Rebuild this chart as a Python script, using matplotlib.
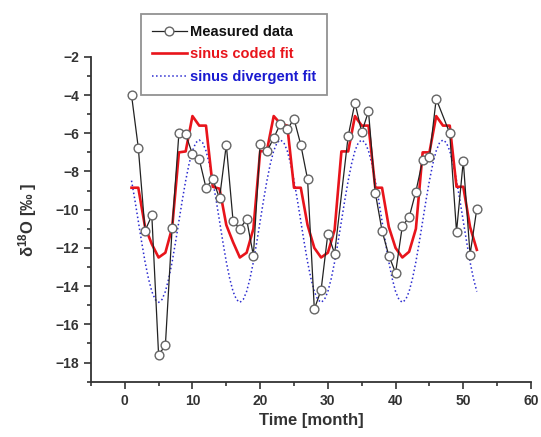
import matplotlib
matplotlib.use("Agg")
import matplotlib.pyplot as plt
from matplotlib.ticker import MultipleLocator

# measured monthly delta 18O (months 32 and 47 missing)
months_meas = [1, 2, 3, 4, 5, 6, 7, 8, 9, 10, 11, 12, 13, 14, 15, 16, 17, 18, 19, 20,
               21, 22, 23, 24, 25, 26, 27, 28, 29, 30, 31, 33, 34, 35, 36, 37, 38, 39, 40,
               41, 42, 43, 44, 45, 46, 48, 49, 50, 51, 52]
d18o_meas = [-4.0, -6.75, -11.1, -10.3, -17.6, -17.1, -10.95, -6.0, -6.05, -7.1,
             -7.35, -8.85, -8.4, -9.4, -6.6, -10.6, -11.0, -10.5, -12.4, -6.55,
             -6.95, -6.25, -5.5, -5.8, -5.25, -6.6, -8.4, -15.2, -14.2, -11.25,
             -12.3, -6.15, -4.4, -5.95, -4.85, -9.1, -11.1, -12.4, -13.3, -10.85,
             -10.4, -9.05, -7.4, -7.25, -4.2, -6.0, -11.15, -7.45, -12.35, -9.95]

# sinus coded fit, one value per month
months_fit = list(range(1, 53))
coded_fit = [-8.85, -8.85, -10.9, -11.8, -12.5, -12.25, -10.95, -7.0, -6.95, -5.1, -5.6, -5.6,
             -8.8, -8.9, -10.8, -11.7, -12.5, -12.25, -11.0, -6.95, -6.9, -5.1, -5.5, -5.6,
             -8.85, -8.85, -10.8, -12.0, -12.5, -12.25, -11.05, -6.95, -6.95, -5.1, -5.6, -5.6,
             -8.85, -8.85, -10.9, -12.0, -12.5, -12.2, -11.0, -7.0, -7.0, -5.1, -5.6, -5.6,
             -8.8, -8.8, -10.9, -12.1]

# sinus divergent fit, read every half month
months_div = [1 + 0.5 * i for i in range(103)]
divergent_fit = [
    -8.48, -9.5, -10.6, -11.7, -12.73, -13.6, -14.28, -14.7, -14.85, -14.7, -14.28, -13.6,
    -12.73, -11.7, -10.6, -9.5, -8.48, -7.6, -6.92, -6.49, -6.35, -6.49, -6.92, -7.6,
    -8.48, -9.5, -10.6, -11.7, -12.73, -13.6, -14.28, -14.7, -14.85, -14.7, -14.28, -13.6,
    -12.73, -11.7, -10.6, -9.5, -8.48, -7.6, -6.92, -6.49, -6.35, -6.49, -6.92, -7.6,
    -8.48, -9.5, -10.6, -11.7, -12.73, -13.6, -14.28, -14.7, -14.85, -14.7, -14.28, -13.6,
    -12.73, -11.7, -10.6, -9.5, -8.48, -7.6, -6.92, -6.49, -6.35, -6.49, -6.92, -7.6,
    -8.48, -9.5, -10.6, -11.7, -12.73, -13.6, -14.28, -14.7, -14.85, -14.7, -14.28, -13.6,
    -12.73, -11.7, -10.6, -9.5, -8.48, -7.6, -6.92, -6.49, -6.35, -6.49, -6.92, -7.6,
    -8.48, -9.5, -10.6, -11.7, -12.73, -13.6, -14.28]

plt.rcParams['font.family'] = ['Liberation Sans', 'DejaVu Sans']
plt.rcParams['mathtext.fontset'] = 'custom'
plt.rcParams['mathtext.rm'] = 'Liberation Sans:bold'
plt.rcParams['mathtext.bf'] = 'Liberation Sans:bold'
plt.rcParams['mathtext.it'] = 'Liberation Sans:bold'

fig = plt.figure(figsize=(5.41, 4.37), dpi=100)
ax = fig.add_axes([0.168, 0.1265, 0.8135, 0.7435])

ax.plot(months_div, divergent_fit, color='#2b2bd0', linestyle=':', linewidth=1.1,
        label='sinus divergent fit', zorder=2)
ax.plot(months_fit, coded_fit, color='#e8141b', linewidth=1.9,
        label='sinus coded fit', zorder=3)
ax.plot(months_meas, d18o_meas, color='#222222', linewidth=0.9, marker='o',
        markersize=6.3, markerfacecolor='white', markeredgecolor='#666666',
        markeredgewidth=1.0, label='Measured data', zorder=4)

ax.set_xlim(-5, 60)
ax.set_ylim(-19, -2)
ax.xaxis.set_major_locator(MultipleLocator(10))
ax.xaxis.set_minor_locator(MultipleLocator(5))
ax.yaxis.set_major_locator(MultipleLocator(2))
ax.yaxis.set_minor_locator(MultipleLocator(1))
ax.tick_params(which='both', direction='out', colors='#333333', width=1.2)
ax.tick_params(which='major', length=5, labelsize=10, labelcolor='#333333')
ax.tick_params(which='minor', length=3)
for lbl in ax.get_xticklabels() + ax.get_yticklabels():
    lbl.set_fontweight('bold')
for side in ['top', 'right']:
    ax.spines[side].set_visible(False)
for side in ['left', 'bottom']:
    ax.spines[side].set_linewidth(1.3)
    ax.spines[side].set_color('#333333')

ax.set_xlabel('Time [month]', fontsize=12, fontweight='bold', color='#333333', labelpad=4)
ax.set_ylabel(r'δ$^{18}$O [‰ ]', fontsize=12, fontweight='bold', color='#333333', labelpad=12)

h, l = ax.get_legend_handles_labels()
order = [2, 1, 0]
leg = ax.legend([h[i] for i in order], [l[i] for i in order],
                loc='upper left', bbox_to_anchor=(0.26, 0.968),
                bbox_transform=fig.transFigure, fancybox=False, frameon=True,
                edgecolor='#777777', fontsize=10.5, handlelength=2.4,
                borderpad=0.75, labelspacing=0.58, handletextpad=0.25,
                borderaxespad=0)
leg.get_frame().set_linewidth(1.3)
text_colors = ['#111111', '#e8141b', '#1a1ad0']
for t, c in zip(leg.get_texts(), text_colors):
    t.set_color(c)
    t.set_fontweight('bold')

fig.savefig('out.png', dpi=100)
